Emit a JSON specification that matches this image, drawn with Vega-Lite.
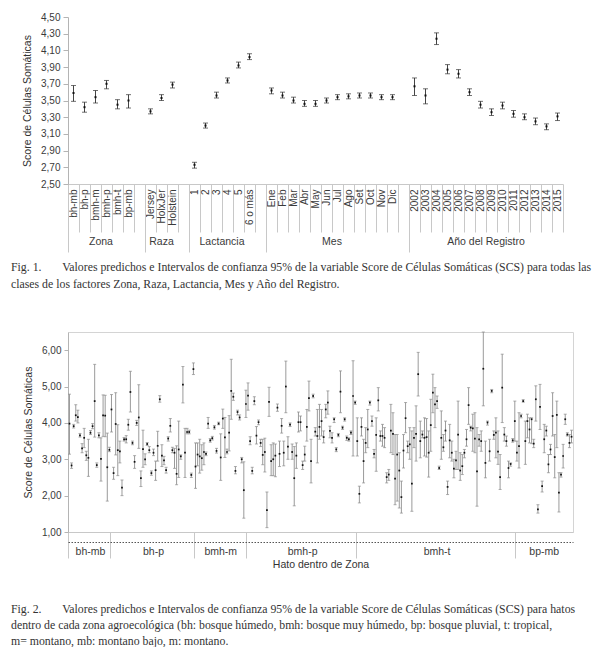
{
  "$schema": "https://vega.github.io/schema/vega-lite/v6.json",
  "padding": {"left": 10, "top": 12, "right": 0, "bottom": 0},
  "spacing": 40,
  "config": {
    "font": "Liberation Sans",
    "view": {"stroke": null},
    "axis": {"labelColor": "#3a3a3a", "titleColor": "#333", "labelFontSize": 10, "titleFontSize": 10.5, "titleFontWeight": "normal", "grid": false, "domainColor": "#b4b4b4", "tickColor": "#b4b4b4", "labelOverlap": false},
    "title": {"font": "Liberation Serif", "fontSize": 11.8, "fontWeight": "normal", "color": "#333", "lineHeight": 17}
  },
  "datasets": {
    "f1": [
      {"g": "Zona", "c": "bh-mb", "v": 3.59, "lo": 3.49, "hi": 3.68},
      {"g": "Zona", "c": "bh-p", "v": 3.42, "lo": 3.36, "hi": 3.48},
      {"g": "Zona", "c": "bmh-m", "v": 3.54, "lo": 3.47, "hi": 3.62},
      {"g": "Zona", "c": "bmh-p", "v": 3.70, "lo": 3.64, "hi": 3.74},
      {"g": "Zona", "c": "bmh-t", "v": 3.45, "lo": 3.40, "hi": 3.51},
      {"g": "Zona", "c": "bp-mb", "v": 3.50, "lo": 3.41, "hi": 3.57},
      {"g": "Raza", "c": "Jersey", "v": 3.37, "lo": 3.34, "hi": 3.40},
      {"g": "Raza", "c": "HolxJer", "v": 3.53, "lo": 3.50, "hi": 3.57},
      {"g": "Raza", "c": "Holstein", "v": 3.69, "lo": 3.65, "hi": 3.72},
      {"g": "Lactancia", "c": "1", "v": 2.73, "lo": 2.69, "hi": 2.76},
      {"g": "Lactancia", "c": "2", "v": 3.20, "lo": 3.17, "hi": 3.23},
      {"g": "Lactancia", "c": "3", "v": 3.56, "lo": 3.53, "hi": 3.60},
      {"g": "Lactancia", "c": "4", "v": 3.74, "lo": 3.71, "hi": 3.77},
      {"g": "Lactancia", "c": "5", "v": 3.92, "lo": 3.89, "hi": 3.96},
      {"g": "Lactancia", "c": "6 o más", "v": 4.02, "lo": 3.99, "hi": 4.06},
      {"g": "Mes", "c": "Ene", "v": 3.62, "lo": 3.58, "hi": 3.65},
      {"g": "Mes", "c": "Feb", "v": 3.56, "lo": 3.53, "hi": 3.60},
      {"g": "Mes", "c": "Mar", "v": 3.50, "lo": 3.47, "hi": 3.54},
      {"g": "Mes", "c": "Abr", "v": 3.46, "lo": 3.43, "hi": 3.50},
      {"g": "Mes", "c": "May", "v": 3.46, "lo": 3.43, "hi": 3.50},
      {"g": "Mes", "c": "Jun", "v": 3.50, "lo": 3.47, "hi": 3.53},
      {"g": "Mes", "c": "Jul", "v": 3.54, "lo": 3.51, "hi": 3.57},
      {"g": "Mes", "c": "Ago", "v": 3.55, "lo": 3.52, "hi": 3.58},
      {"g": "Mes", "c": "Set", "v": 3.56, "lo": 3.53, "hi": 3.59},
      {"g": "Mes", "c": "Oct", "v": 3.56, "lo": 3.53, "hi": 3.59},
      {"g": "Mes", "c": "Nov", "v": 3.54, "lo": 3.51, "hi": 3.57},
      {"g": "Mes", "c": "Dic", "v": 3.54, "lo": 3.51, "hi": 3.57},
      {"g": "Año del Registro", "c": "2002", "v": 3.67, "lo": 3.56, "hi": 3.77},
      {"g": "Año del Registro", "c": "2003", "v": 3.56, "lo": 3.46, "hi": 3.64},
      {"g": "Año del Registro", "c": "2004", "v": 4.24, "lo": 4.17, "hi": 4.31},
      {"g": "Año del Registro", "c": "2005", "v": 3.87, "lo": 3.82, "hi": 3.93},
      {"g": "Año del Registro", "c": "2006", "v": 3.82, "lo": 3.77, "hi": 3.87},
      {"g": "Año del Registro", "c": "2007", "v": 3.60, "lo": 3.56, "hi": 3.64},
      {"g": "Año del Registro", "c": "2008", "v": 3.45, "lo": 3.41, "hi": 3.49},
      {"g": "Año del Registro", "c": "2009", "v": 3.36, "lo": 3.32, "hi": 3.40},
      {"g": "Año del Registro", "c": "2010", "v": 3.44, "lo": 3.40, "hi": 3.48},
      {"g": "Año del Registro", "c": "2011", "v": 3.34, "lo": 3.30, "hi": 3.38},
      {"g": "Año del Registro", "c": "2012", "v": 3.30, "lo": 3.27, "hi": 3.34},
      {"g": "Año del Registro", "c": "2013", "v": 3.25, "lo": 3.21, "hi": 3.29},
      {"g": "Año del Registro", "c": "2014", "v": 3.19, "lo": 3.15, "hi": 3.22},
      {"g": "Año del Registro", "c": "2015", "v": 3.31, "lo": 3.26, "hi": 3.35}
    ],
    "f2": [
      {"z":"bh-mb","h":1,"v":3.98,"lo":3.14,"hi":4.79},
      {"z":"bh-mb","h":2,"v":2.83,"lo":2.75,"hi":2.90},
      {"z":"bh-mb","h":3,"v":3.91,"lo":3.86,"hi":3.96},
      {"z":"bh-mb","h":4,"v":4.21,"lo":4.05,"hi":4.50},
      {"z":"bh-mb","h":5,"v":4.16,"lo":4.00,"hi":4.35},
      {"z":"bh-mb","h":6,"v":3.66,"lo":3.61,"hi":3.71},
      {"z":"bh-mb","h":7,"v":3.30,"lo":3.18,"hi":3.43},
      {"z":"bh-mb","h":8,"v":3.59,"lo":3.32,"hi":3.85},
      {"z":"bh-mb","h":9,"v":3.11,"lo":2.97,"hi":3.22},
      {"z":"bh-mb","h":10,"v":3.04,"lo":2.53,"hi":3.55},
      {"z":"bh-mb","h":11,"v":3.73,"lo":3.68,"hi":3.79},
      {"z":"bh-mb","h":12,"v":3.91,"lo":3.84,"hi":3.98},
      {"z":"bh-mb","h":13,"v":4.60,"lo":3.61,"hi":5.61},
      {"z":"bh-mb","h":14,"v":2.84,"lo":2.78,"hi":2.90},
      {"z":"bh-mb","h":15,"v":3.66,"lo":3.59,"hi":3.73},
      {"z":"bh-mb","h":16,"v":3.01,"lo":2.40,"hi":3.59},
      {"z":"bh-mb","h":17,"v":4.21,"lo":3.63,"hi":4.77},
      {"z":"bh-mb","h":18,"v":4.20,"lo":3.62,"hi":4.76},
      {"z":"bh-mb","h":19,"v":2.78,"lo":1.85,"hi":3.72},
      {"z":"bh-mb","h":20,"v":3.26,"lo":3.21,"hi":3.33},
      {"z":"bh-p","h":21,"v":4.37,"lo":3.75,"hi":4.78},
      {"z":"bh-p","h":22,"v":2.62,"lo":2.45,"hi":2.78},
      {"z":"bh-p","h":23,"v":3.97,"lo":3.12,"hi":4.83},
      {"z":"bh-p","h":24,"v":3.25,"lo":2.55,"hi":3.95},
      {"z":"bh-p","h":25,"v":3.22,"lo":2.90,"hi":3.50},
      {"z":"bh-p","h":26,"v":2.22,"lo":2.00,"hi":2.43},
      {"z":"bh-p","h":27,"v":3.55,"lo":3.50,"hi":3.60},
      {"z":"bh-p","h":28,"v":3.55,"lo":3.45,"hi":3.65},
      {"z":"bh-p","h":29,"v":3.95,"lo":3.80,"hi":4.10},
      {"z":"bh-p","h":30,"v":4.85,"lo":4.30,"hi":5.42},
      {"z":"bh-p","h":31,"v":3.45,"lo":3.40,"hi":3.50},
      {"z":"bh-p","h":32,"v":2.93,"lo":2.75,"hi":3.10},
      {"z":"bh-p","h":33,"v":4.00,"lo":3.93,"hi":4.07},
      {"z":"bh-p","h":34,"v":4.15,"lo":3.30,"hi":5.05},
      {"z":"bh-p","h":35,"v":2.48,"lo":2.25,"hi":2.68},
      {"z":"bh-p","h":36,"v":3.28,"lo":2.78,"hi":3.80},
      {"z":"bh-p","h":37,"v":3.00,"lo":2.85,"hi":3.15},
      {"z":"bh-p","h":38,"v":3.42,"lo":3.38,"hi":3.46},
      {"z":"bh-p","h":39,"v":3.25,"lo":3.18,"hi":3.35},
      {"z":"bh-p","h":40,"v":2.62,"lo":2.56,"hi":2.68},
      {"z":"bh-p","h":41,"v":3.18,"lo":3.10,"hi":3.28},
      {"z":"bh-p","h":42,"v":2.70,"lo":2.42,"hi":2.95},
      {"z":"bh-p","h":43,"v":3.37,"lo":2.95,"hi":3.77},
      {"z":"bh-p","h":44,"v":4.65,"lo":4.57,"hi":4.75},
      {"z":"bh-p","h":45,"v":3.10,"lo":2.80,"hi":3.40},
      {"z":"bh-p","h":46,"v":2.97,"lo":2.85,"hi":3.08},
      {"z":"bh-p","h":47,"v":2.70,"lo":2.62,"hi":2.78},
      {"z":"bh-p","h":48,"v":3.57,"lo":3.50,"hi":3.62},
      {"z":"bh-p","h":49,"v":3.92,"lo":3.75,"hi":4.12},
      {"z":"bh-p","h":50,"v":3.25,"lo":3.18,"hi":3.33},
      {"z":"bh-p","h":51,"v":3.18,"lo":2.75,"hi":3.30},
      {"z":"bh-p","h":52,"v":2.60,"lo":2.30,"hi":3.37},
      {"z":"bh-p","h":53,"v":3.27,"lo":2.50,"hi":4.05},
      {"z":"bh-p","h":54,"v":3.08,"lo":3.00,"hi":3.12},
      {"z":"bh-p","h":55,"v":5.05,"lo":4.55,"hi":5.55},
      {"z":"bh-p","h":56,"v":3.18,"lo":2.50,"hi":3.85},
      {"z":"bh-p","h":57,"v":3.75,"lo":3.70,"hi":3.85},
      {"z":"bh-p","h":58,"v":3.75,"lo":3.70,"hi":3.80},
      {"z":"bh-p","h":59,"v":2.57,"lo":2.50,"hi":2.62},
      {"z":"bh-p","h":60,"v":5.48,"lo":5.33,"hi":5.65},
      {"z":"bmh-m","h":61,"v":2.80,"lo":2.20,"hi":3.45},
      {"z":"bmh-m","h":62,"v":3.13,"lo":2.82,"hi":3.45},
      {"z":"bmh-m","h":63,"v":3.08,"lo":2.62,"hi":3.55},
      {"z":"bmh-m","h":64,"v":3.03,"lo":2.70,"hi":3.40},
      {"z":"bmh-m","h":65,"v":3.20,"lo":2.85,"hi":3.45},
      {"z":"bmh-m","h":66,"v":3.15,"lo":3.10,"hi":3.20},
      {"z":"bmh-m","h":67,"v":3.98,"lo":3.85,"hi":4.15},
      {"z":"bmh-m","h":68,"v":3.52,"lo":3.47,"hi":3.57},
      {"z":"bmh-m","h":69,"v":3.58,"lo":3.53,"hi":3.63},
      {"z":"bmh-m","h":70,"v":3.88,"lo":3.83,"hi":3.93},
      {"z":"bmh-m","h":71,"v":3.23,"lo":3.17,"hi":3.30},
      {"z":"bmh-m","h":72,"v":3.98,"lo":3.95,"hi":4.02},
      {"z":"bmh-m","h":73,"v":3.05,"lo":2.42,"hi":3.70},
      {"z":"bmh-m","h":74,"v":4.12,"lo":3.85,"hi":4.38},
      {"z":"bmh-m","h":75,"v":3.60,"lo":3.05,"hi":4.15},
      {"z":"bmh-m","h":76,"v":3.20,"lo":3.15,"hi":3.28},
      {"z":"bmh-m","h":77,"v":3.73,"lo":3.23,"hi":4.20},
      {"z":"bmh-m","h":78,"v":4.88,"lo":4.10,"hi":5.75},
      {"z":"bmh-m","h":79,"v":4.72,"lo":4.62,"hi":4.82},
      {"z":"bmh-m","h":80,"v":2.68,"lo":2.60,"hi":2.80},
      {"z":"bmh-m","h":81,"v":4.30,"lo":4.22,"hi":4.35},
      {"z":"bmh-m","h":82,"v":4.15,"lo":4.08,"hi":4.22},
      {"z":"bmh-m","h":83,"v":3.00,"lo":2.90,"hi":3.05},
      {"z":"bmh-m","h":84,"v":2.15,"lo":1.38,"hi":2.93},
      {"z":"bmh-m","h":85,"v":4.52,"lo":4.15,"hi":4.90},
      {"z":"bmh-p","h":86,"v":4.75,"lo":4.35,"hi":5.10},
      {"z":"bmh-p","h":87,"v":3.50,"lo":3.40,"hi":3.62},
      {"z":"bmh-p","h":88,"v":2.68,"lo":2.60,"hi":2.78},
      {"z":"bmh-p","h":89,"v":4.60,"lo":4.50,"hi":4.72},
      {"z":"bmh-p","h":90,"v":3.65,"lo":3.42,"hi":3.90},
      {"z":"bmh-p","h":91,"v":4.02,"lo":3.95,"hi":4.08},
      {"z":"bmh-p","h":92,"v":3.45,"lo":3.35,"hi":3.55},
      {"z":"bmh-p","h":93,"v":3.12,"lo":2.85,"hi":3.55},
      {"z":"bmh-p","h":94,"v":3.20,"lo":2.65,"hi":3.58},
      {"z":"bmh-p","h":95,"v":1.60,"lo":1.12,"hi":2.10},
      {"z":"bmh-p","h":96,"v":4.58,"lo":4.18,"hi":4.98},
      {"z":"bmh-p","h":97,"v":2.95,"lo":2.55,"hi":3.40},
      {"z":"bmh-p","h":98,"v":3.00,"lo":2.55,"hi":3.45},
      {"z":"bmh-p","h":99,"v":3.10,"lo":2.52,"hi":3.42},
      {"z":"bmh-p","h":100,"v":4.42,"lo":4.32,"hi":4.52},
      {"z":"bmh-p","h":101,"v":3.15,"lo":2.80,"hi":3.50},
      {"z":"bmh-p","h":102,"v":3.92,"lo":3.72,"hi":4.12},
      {"z":"bmh-p","h":103,"v":3.18,"lo":2.82,"hi":3.50},
      {"z":"bmh-p","h":104,"v":5.00,"lo":4.28,"hi":5.70},
      {"z":"bmh-p","h":105,"v":3.35,"lo":3.00,"hi":3.62},
      {"z":"bmh-p","h":106,"v":3.95,"lo":3.90,"hi":4.00},
      {"z":"bmh-p","h":107,"v":3.20,"lo":3.00,"hi":3.42},
      {"z":"bmh-p","h":108,"v":2.48,"lo":1.72,"hi":3.35},
      {"z":"bmh-p","h":109,"v":3.10,"lo":2.75,"hi":3.45},
      {"z":"bmh-p","h":110,"v":4.02,"lo":3.75,"hi":4.30},
      {"z":"bmh-p","h":111,"v":4.02,"lo":3.78,"hi":4.19},
      {"z":"bmh-p","h":112,"v":2.84,"lo":2.72,"hi":2.95},
      {"z":"bmh-p","h":113,"v":3.13,"lo":2.95,"hi":3.36},
      {"z":"bmh-p","h":114,"v":3.89,"lo":3.50,"hi":4.37},
      {"z":"bmh-p","h":115,"v":4.68,"lo":4.33,"hi":5.15},
      {"z":"bmh-p","h":116,"v":2.95,"lo":2.35,"hi":3.55},
      {"z":"bmh-p","h":117,"v":4.74,"lo":4.69,"hi":4.79},
      {"z":"bmh-p","h":118,"v":3.76,"lo":3.64,"hi":3.87},
      {"z":"bmh-p","h":119,"v":3.64,"lo":2.90,"hi":4.37},
      {"z":"bmh-p","h":120,"v":3.89,"lo":3.55,"hi":4.51},
      {"z":"bmh-p","h":121,"v":4.05,"lo":3.64,"hi":4.37},
      {"z":"bmh-p","h":122,"v":3.61,"lo":3.45,"hi":3.78},
      {"z":"bmh-p","h":123,"v":4.37,"lo":4.14,"hi":4.51},
      {"z":"bmh-p","h":124,"v":4.56,"lo":4.24,"hi":4.88},
      {"z":"bmh-p","h":125,"v":3.78,"lo":3.59,"hi":3.91},
      {"z":"bmh-p","h":126,"v":3.59,"lo":3.45,"hi":3.73},
      {"z":"bmh-p","h":127,"v":4.10,"lo":4.01,"hi":4.14},
      {"z":"bmh-p","h":128,"v":3.27,"lo":3.21,"hi":3.32},
      {"z":"bmh-p","h":129,"v":3.67,"lo":3.62,"hi":3.71},
      {"z":"bmh-p","h":130,"v":4.86,"lo":4.28,"hi":5.43},
      {"z":"bmh-p","h":131,"v":3.87,"lo":3.82,"hi":3.91},
      {"z":"bmh-p","h":132,"v":4.10,"lo":4.05,"hi":4.14},
      {"z":"bmh-p","h":133,"v":3.59,"lo":3.52,"hi":3.64},
      {"z":"bmh-p","h":134,"v":3.55,"lo":3.50,"hi":3.59},
      {"z":"bmh-p","h":135,"v":3.73,"lo":3.68,"hi":3.78},
      {"z":"bmh-p","h":136,"v":4.74,"lo":3.09,"hi":5.71},
      {"z":"bmh-p","h":137,"v":4.56,"lo":4.51,"hi":4.60},
      {"z":"bmh-t","h":138,"v":3.50,"lo":3.09,"hi":4.14},
      {"z":"bmh-t","h":139,"v":2.05,"lo":1.80,"hi":2.26},
      {"z":"bmh-t","h":140,"v":3.89,"lo":3.64,"hi":4.14},
      {"z":"bmh-t","h":141,"v":2.95,"lo":2.35,"hi":3.55},
      {"z":"bmh-t","h":142,"v":3.45,"lo":3.18,"hi":3.87},
      {"z":"bmh-t","h":143,"v":3.82,"lo":3.32,"hi":4.37},
      {"z":"bmh-t","h":144,"v":4.56,"lo":4.49,"hi":4.60},
      {"z":"bmh-t","h":145,"v":4.05,"lo":3.91,"hi":4.19},
      {"z":"bmh-t","h":146,"v":3.15,"lo":3.04,"hi":3.27},
      {"z":"bmh-t","h":147,"v":3.67,"lo":2.67,"hi":4.14},
      {"z":"bmh-t","h":148,"v":4.62,"lo":4.33,"hi":4.97},
      {"z":"bmh-t","h":149,"v":3.64,"lo":3.50,"hi":3.78},
      {"z":"bmh-t","h":150,"v":3.64,"lo":3.36,"hi":3.96},
      {"z":"bmh-t","h":151,"v":3.59,"lo":3.32,"hi":3.87},
      {"z":"bmh-t","h":152,"v":2.51,"lo":2.35,"hi":2.63},
      {"z":"bmh-t","h":153,"v":2.58,"lo":2.42,"hi":2.72},
      {"z":"bmh-t","h":154,"v":3.79,"lo":3.18,"hi":4.51},
      {"z":"bmh-t","h":155,"v":3.70,"lo":3.13,"hi":4.28},
      {"z":"bmh-t","h":156,"v":2.47,"lo":1.75,"hi":3.68},
      {"z":"bmh-t","h":157,"v":3.13,"lo":1.85,"hi":3.68},
      {"z":"bmh-t","h":158,"v":2.69,"lo":1.66,"hi":3.18},
      {"z":"bmh-t","h":159,"v":1.96,"lo":1.52,"hi":2.40},
      {"z":"bmh-t","h":160,"v":3.24,"lo":2.76,"hi":3.68},
      {"z":"bmh-t","h":161,"v":4.13,"lo":3.73,"hi":4.56},
      {"z":"bmh-t","h":162,"v":3.36,"lo":3.18,"hi":3.50},
      {"z":"bmh-t","h":163,"v":3.41,"lo":3.00,"hi":3.87},
      {"z":"bmh-t","h":164,"v":2.33,"lo":1.57,"hi":3.78},
      {"z":"bmh-t","h":165,"v":3.59,"lo":3.32,"hi":3.87},
      {"z":"bmh-t","h":166,"v":3.70,"lo":2.95,"hi":4.47},
      {"z":"bmh-t","h":167,"v":5.34,"lo":4.74,"hi":5.94},
      {"z":"bmh-t","h":168,"v":3.50,"lo":3.04,"hi":4.05},
      {"z":"bmh-t","h":169,"v":3.68,"lo":3.59,"hi":3.78},
      {"z":"bmh-t","h":170,"v":3.59,"lo":3.09,"hi":4.14},
      {"z":"bmh-t","h":171,"v":3.61,"lo":3.06,"hi":4.12},
      {"z":"bmh-t","h":172,"v":3.18,"lo":2.51,"hi":3.78},
      {"z":"bmh-t","h":173,"v":3.94,"lo":3.22,"hi":4.65},
      {"z":"bmh-t","h":174,"v":4.83,"lo":4.28,"hi":5.34},
      {"z":"bmh-t","h":175,"v":4.51,"lo":3.87,"hi":4.97},
      {"z":"bmh-t","h":176,"v":4.60,"lo":4.40,"hi":4.74},
      {"z":"bmh-t","h":177,"v":2.76,"lo":2.72,"hi":2.81},
      {"z":"bmh-t","h":178,"v":3.59,"lo":3.00,"hi":4.33},
      {"z":"bmh-t","h":179,"v":3.33,"lo":3.22,"hi":3.68},
      {"z":"bmh-t","h":180,"v":3.79,"lo":3.50,"hi":4.05},
      {"z":"bmh-t","h":181,"v":2.24,"lo":2.03,"hi":2.40},
      {"z":"bmh-t","h":182,"v":3.52,"lo":3.04,"hi":3.96},
      {"z":"bmh-t","h":183,"v":3.18,"lo":2.95,"hi":3.50},
      {"z":"bmh-t","h":184,"v":2.74,"lo":2.49,"hi":3.00},
      {"z":"bmh-t","h":185,"v":2.97,"lo":2.72,"hi":3.22},
      {"z":"bmh-t","h":186,"v":3.68,"lo":2.72,"hi":4.60},
      {"z":"bmh-t","h":187,"v":2.69,"lo":2.42,"hi":3.18},
      {"z":"bmh-t","h":188,"v":2.81,"lo":2.58,"hi":3.13},
      {"z":"bmh-t","h":189,"v":3.18,"lo":3.04,"hi":3.27},
      {"z":"bmh-t","h":190,"v":3.55,"lo":3.36,"hi":3.82},
      {"z":"bmh-t","h":191,"v":4.49,"lo":3.96,"hi":4.97},
      {"z":"bmh-t","h":192,"v":3.87,"lo":3.78,"hi":3.91},
      {"z":"bmh-t","h":193,"v":3.85,"lo":3.22,"hi":4.24},
      {"z":"bmh-t","h":194,"v":3.57,"lo":3.18,"hi":4.28},
      {"z":"bmh-t","h":195,"v":2.67,"lo":1.71,"hi":3.87},
      {"z":"bmh-t","h":196,"v":3.55,"lo":3.36,"hi":3.68},
      {"z":"bmh-t","h":197,"v":3.50,"lo":3.22,"hi":3.78},
      {"z":"bmh-t","h":198,"v":5.49,"lo":4.47,"hi":6.50},
      {"z":"bmh-t","h":199,"v":2.90,"lo":2.49,"hi":3.50},
      {"z":"bmh-t","h":200,"v":4.01,"lo":3.94,"hi":4.05},
      {"z":"bmh-t","h":201,"v":3.22,"lo":2.95,"hi":3.55},
      {"z":"bmh-t","h":202,"v":4.88,"lo":4.83,"hi":4.92},
      {"z":"bmh-t","h":203,"v":3.67,"lo":3.55,"hi":3.78},
      {"z":"bmh-t","h":204,"v":3.73,"lo":3.04,"hi":4.14},
      {"z":"bmh-t","h":205,"v":3.21,"lo":2.86,"hi":3.78},
      {"z":"bmh-t","h":206,"v":2.51,"lo":2.17,"hi":3.13},
      {"z":"bmh-t","h":207,"v":4.97,"lo":4.01,"hi":5.89},
      {"z":"bmh-t","h":208,"v":3.68,"lo":3.50,"hi":3.87},
      {"z":"bmh-t","h":209,"v":3.50,"lo":3.36,"hi":3.64},
      {"z":"bmh-t","h":210,"v":2.76,"lo":2.49,"hi":2.95},
      {"z":"bmh-t","h":211,"v":2.87,"lo":2.81,"hi":2.90},
      {"z":"bmh-t","h":212,"v":3.52,"lo":3.47,"hi":3.57},
      {"z":"bmh-t","h":213,"v":4.05,"lo":3.50,"hi":4.60},
      {"z":"bp-mb","h":214,"v":3.18,"lo":2.95,"hi":3.50},
      {"z":"bp-mb","h":215,"v":3.36,"lo":2.76,"hi":4.28},
      {"z":"bp-mb","h":216,"v":4.19,"lo":4.14,"hi":4.24},
      {"z":"bp-mb","h":217,"v":4.60,"lo":4.57,"hi":4.64},
      {"z":"bp-mb","h":218,"v":3.50,"lo":2.86,"hi":4.05},
      {"z":"bp-mb","h":219,"v":4.05,"lo":3.59,"hi":4.24},
      {"z":"bp-mb","h":220,"v":3.82,"lo":3.45,"hi":4.14},
      {"z":"bp-mb","h":221,"v":4.10,"lo":3.43,"hi":4.14},
      {"z":"bp-mb","h":222,"v":3.43,"lo":3.32,"hi":3.55},
      {"z":"bp-mb","h":223,"v":4.65,"lo":4.05,"hi":5.02},
      {"z":"bp-mb","h":224,"v":1.62,"lo":1.52,"hi":1.75},
      {"z":"bp-mb","h":225,"v":4.44,"lo":3.82,"hi":5.06},
      {"z":"bp-mb","h":226,"v":2.26,"lo":2.10,"hi":2.40},
      {"z":"bp-mb","h":227,"v":3.55,"lo":3.18,"hi":3.96},
      {"z":"bp-mb","h":228,"v":3.79,"lo":3.64,"hi":3.91},
      {"z":"bp-mb","h":229,"v":2.86,"lo":2.63,"hi":3.13},
      {"z":"bp-mb","h":230,"v":3.27,"lo":3.13,"hi":3.41},
      {"z":"bp-mb","h":231,"v":4.19,"lo":3.64,"hi":4.83},
      {"z":"bp-mb","h":232,"v":3.06,"lo":2.49,"hi":3.68},
      {"z":"bp-mb","h":233,"v":4.22,"lo":3.32,"hi":4.60},
      {"z":"bp-mb","h":234,"v":2.08,"lo":1.55,"hi":2.63},
      {"z":"bp-mb","h":235,"v":2.58,"lo":2.51,"hi":2.63},
      {"z":"bp-mb","h":236,"v":3.09,"lo":2.76,"hi":3.41},
      {"z":"bp-mb","h":237,"v":4.10,"lo":3.96,"hi":4.24},
      {"z":"bp-mb","h":238,"v":3.68,"lo":3.64,"hi":3.73},
      {"z":"bp-mb","h":239,"v":3.45,"lo":3.32,"hi":3.68},
      {"z":"bp-mb","h":240,"v":3.62,"lo":3.45,"hi":3.80}
    ]
  },
  "vconcat": [
    {
      "width": 495,
      "height": 167,
      "data": {"name": "f1"},
      "title": {
        "text": ["Fig. 1.\u00a0\u00a0\u00a0\u00a0\u00a0\u00a0\u00a0Valores predichos e Intervalos de confianza 95% de la variable Score de Células Somáticas (SCS) para todas las", "\u00a0\u00a0\u00a0\u00a0\u00a0\u00a0\u00a0\u00a0\u00a0\u00a0\u00a0\u00a0\u00a0\u00a0\u00a0\u00a0\u00a0\u00a0clases de los factores Zona, Raza, Lactancia, Mes y Año del Registro."],
        "orient": "bottom", "anchor": "start", "frame": "group", "dx": -57, "offset": 9
      },
      "resolve": {"axis": {"x": "independent"}},
      "layer": [
        {
          "mark": {"type": "rule", "color": "#444", "strokeWidth": 1},
          "encoding": {
            "x": {"field": "c", "type": "nominal", "sort": null,
              "scale": {"domain": ["bh-mb","bh-p","bmh-m","bmh-p","bmh-t","bp-mb","g1","Jersey","HolxJer","Holstein","g2","1","2","3","4","5","6 o más","g3","Ene","Feb","Mar","Abr","May","Jun","Jul","Ago","Set","Oct","Nov","Dic","g4","2002","2003","2004","2005","2006","2007","2008","2009","2010","2011","2012","2013","2014","2015"], "paddingInner": 0, "paddingOuter": 0},
              "axis": {"orient": "bottom", "title": null, "labelAngle": -90, "labelOverlap": false, "labelExpr": "indexof(['g1','g2','g3','g4'], datum.value) >= 0 ? '' : datum.value", "labelFontSize": 10, "labelPadding": -43, "tickBand": "extent", "tickSize": 48, "tickColor": "#c8c8c8", "domainColor": "#c8c8c8"}},
            "y": {"field": "lo", "type": "quantitative", "scale": {"domain": [2.5, 4.5], "nice": false, "zero": false},
              "axis": {"title": "Score de Células Somáticas", "values": [2.5,2.7,2.9,3.1,3.3,3.5,3.7,3.9,4.1,4.3,4.5], "tickCount": 30, "labelOverlap": false, "labelFlush": false, "labelBound": false, "labelExpr": "replace(format(datum.value, '.2f'), '.', ',')", "tickSize": 5, "labelPadding": 3, "titlePadding": 8}},
            "y2": {"field": "hi"}
          }
        },
        {
          "mark": {"type": "tick", "color": "#333", "size": 5, "thickness": 1},
          "encoding": {
            "x": {"field": "c", "type": "nominal", "sort": null,
              "scale": {"domain": ["bh-mb","bh-p","bmh-m","bmh-p","bmh-t","bp-mb","g1","Jersey","HolxJer","Holstein","g2","1","2","3","4","5","6 o más","g3","Ene","Feb","Mar","Abr","May","Jun","Jul","Ago","Set","Oct","Nov","Dic","g4","2002","2003","2004","2005","2006","2007","2008","2009","2010","2011","2012","2013","2014","2015"], "paddingInner": 0, "paddingOuter": 0},
              "axis": {"orient": "bottom", "title": null, "domain": false, "ticks": false, "labelOverlap": false, "values": ["bmh-p","HolxJer","4","Jul","2009"], "labelExpr": "datum.value == 'bmh-p' ? 'Zona' : datum.value == 'HolxJer' ? 'Raza' : datum.value == '4' ? 'Lactancia' : datum.value == 'Jul' ? 'Mes' : 'Año del Registro'", "labelAngle": 0, "labelPadding": 52, "labelFontSize": 10.5, "labelOffset": {"condition": {"test": "datum.value == 'HolxJer'", "value": 0}, "value": -5.5}}},
            "y": {"field": "lo", "type": "quantitative", "scale": {"domain": [2.5, 4.5], "nice": false, "zero": false}}
          }
        },
        {
          "mark": {"type": "tick", "color": "#333", "size": 5, "thickness": 1},
          "encoding": {
            "x": {"field": "c", "type": "nominal", "sort": null,
              "scale": {"domain": ["bh-mb","bh-p","bmh-m","bmh-p","bmh-t","bp-mb","g1","Jersey","HolxJer","Holstein","g2","1","2","3","4","5","6 o más","g3","Ene","Feb","Mar","Abr","May","Jun","Jul","Ago","Set","Oct","Nov","Dic","g4","2002","2003","2004","2005","2006","2007","2008","2009","2010","2011","2012","2013","2014","2015"], "paddingInner": 0, "paddingOuter": 0},
              "axis": {"orient": "bottom", "title": null, "domain": false, "labels": false, "values": ["bh-mb","Jersey","1","Ene","2002"], "bandPosition": 0, "tickSize": 68, "tickColor": "#c8c8c8"}},
            "y": {"field": "hi", "type": "quantitative", "scale": {"domain": [2.5, 4.5], "nice": false, "zero": false}}
          }
        },
        {
          "mark": {"type": "square", "color": "#111", "size": 4, "opacity": 1},
          "encoding": {
            "x": {"field": "c", "type": "nominal", "sort": null,
              "scale": {"domain": ["bh-mb","bh-p","bmh-m","bmh-p","bmh-t","bp-mb","g1","Jersey","HolxJer","Holstein","g2","1","2","3","4","5","6 o más","g3","Ene","Feb","Mar","Abr","May","Jun","Jul","Ago","Set","Oct","Nov","Dic","g4","2002","2003","2004","2005","2006","2007","2008","2009","2010","2011","2012","2013","2014","2015"], "paddingInner": 0, "paddingOuter": 0},
              "axis": null},
            "y": {"field": "v", "type": "quantitative", "scale": {"domain": [2.5, 4.5], "nice": false, "zero": false}}
          }
        }
      ]
    },
    {
      "width": 505,
      "height": 200,
      "view": {"stroke": "#d4d4d4"},
      "data": {"name": "f2"},
      "title": {
        "text": ["Fig. 2.\u00a0\u00a0\u00a0\u00a0\u00a0\u00a0\u00a0Valores predichos e Intervalos de confianza 95% de la variable Score de Células Somáticas (SCS) para hatos", "\u00a0\u00a0\u00a0\u00a0\u00a0\u00a0\u00a0\u00a0\u00a0\u00a0\u00a0\u00a0\u00a0\u00a0\u00a0\u00a0\u00a0\u00a0dentro de cada zona agroecológica (bh: bosque húmedo, bmh: bosque muy húmedo, bp: bosque pluvial, t: tropical,", "\u00a0\u00a0\u00a0\u00a0\u00a0\u00a0\u00a0\u00a0\u00a0\u00a0\u00a0\u00a0\u00a0\u00a0\u00a0\u00a0\u00a0\u00a0m= montano, mb: montano bajo, m: montano."],
        "orient": "bottom", "anchor": "start", "frame": "group", "dx": -57, "offset": 34, "lineHeight": 16
      },
      "resolve": {"axis": {"x": "independent"}},
      "layer": [
        {
          "mark": {"type": "rule", "color": "#9a9a9a", "strokeWidth": 1},
          "encoding": {
            "x": {"field": "h", "type": "ordinal", "scale": {"paddingInner": 0, "paddingOuter": 0.2},
              "axis": {"orient": "bottom", "title": null, "labels": false, "values": [1,21,61,86,138,214], "bandPosition": 0, "tickSize": 26, "tickColor": "#c8c8c8", "domainColor": "#c8c8c8"}},
            "y": {"field": "lo", "type": "quantitative", "scale": {"domain": [1, 6.5], "nice": false, "zero": false},
              "axis": {"title": "Score de Células Somáticas", "values": [1,2,3,4,5,6], "tickCount": 30, "labelOverlap": false, "labelFlush": false, "labelBound": false, "labelExpr": "replace(format(datum.value, '.2f'), '.', ',')", "tickSize": 4, "labelPadding": 3, "titlePadding": 8}},
            "y2": {"field": "hi"}
          }
        },
        {
          "mark": {"type": "tick", "color": "#8c8c8c", "size": 3, "thickness": 1},
          "encoding": {
            "x": {"field": "h", "type": "ordinal", "scale": {"paddingInner": 0, "paddingOuter": 0.2},
              "axis": {"orient": "bottom", "offset": 10, "title": "Hato dentro de Zona", "titlePadding": 3, "labelOverlap": false, "domainDash": [1.5, 1.5], "domainColor": "#555", "ticks": false, "values": [11,41,73,112,176,227], "labelExpr": "datum.value == 11 ? 'bh-mb' : datum.value == 41 ? 'bh-p' : datum.value == 73 ? 'bmh-m' : datum.value == 112 ? 'bmh-p' : datum.value == 176 ? 'bmh-t' : 'bp-mb'", "labelAngle": 0, "labelPadding": 4, "labelFontSize": 10.5}},
            "y": {"field": "lo", "type": "quantitative", "scale": {"domain": [1, 6.5], "nice": false, "zero": false}}
          }
        },
        {
          "mark": {"type": "tick", "color": "#8c8c8c", "size": 3, "thickness": 1},
          "encoding": {
            "x": {"field": "h", "type": "ordinal", "scale": {"paddingInner": 0, "paddingOuter": 0.2}, "axis": null},
            "y": {"field": "hi", "type": "quantitative", "scale": {"domain": [1, 6.5], "nice": false, "zero": false}}
          }
        },
        {
          "mark": {"type": "square", "color": "#111", "size": 3, "opacity": 1},
          "encoding": {
            "x": {"field": "h", "type": "ordinal", "scale": {"paddingInner": 0, "paddingOuter": 0.2}, "axis": null},
            "y": {"field": "v", "type": "quantitative", "scale": {"domain": [1, 6.5], "nice": false, "zero": false}}
          }
        }
      ]
    }
  ]
}
